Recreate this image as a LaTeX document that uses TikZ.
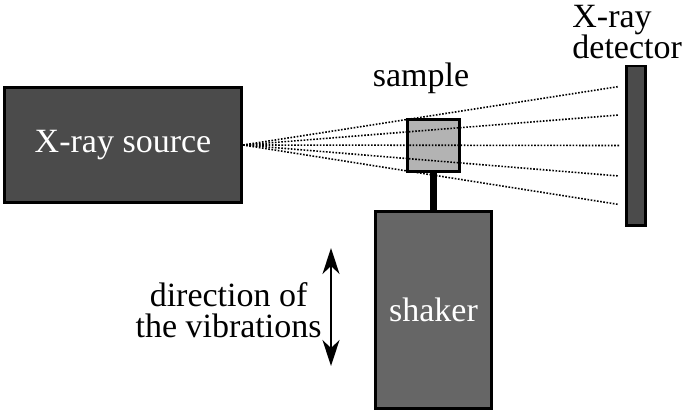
\documentclass[tikz,border=0pt]{standalone}
\usepackage{fontspec}
\setmainfont{Liberation Serif}
\usetikzlibrary{shapes,arrows.meta,positioning}
\definecolor{srcgray}{HTML}{4B4B4B}
\definecolor{shkgray}{HTML}{666666}
\definecolor{smpgray}{HTML}{B3B3B3}

\begin{document}
\begin{tikzpicture}[x=0.5pt, y=-0.5pt, font=\fontsize{17}{15.5}\selectfont,
    box/.style={rectangle, draw, line width=1.3pt, inner sep=0pt},
    lbl/.style={inner sep=0pt},
    ray/.style={line width=0.8pt, dash pattern=on 0.8pt off 0.8pt}]
    \useasboundingbox (0,0) rectangle (685,413);
	\node[box, fill=srcgray, text=white, minimum width=118.7pt, minimum height=57.7pt](source) at (123,145){X-ray source};
    \node[box, fill=srcgray, minimum width=9.7pt, minimum height=79.7pt](detector) at (636,145.5){};
    \node[box, fill=shkgray, text=white, minimum width=58.2pt, minimum height=98.7pt](shaker) at (433.5,310){shaker};
    \node[box, fill=smpgray, minimum width=26.2pt, minimum height=26.2pt](sample) at (433.5,145.5){};
    \path[draw, line width=3.5pt](sample.south)--(shaker.north);
    \foreach \dy in {29.5,15.25,0,-15.25,-29.5}
        \path[draw, ray](source.east)--([xshift=-3pt, yshift=\dy pt]detector.west);
    \node[lbl](samplelabel) at (421,78){sample};
    \node[lbl, align=left, anchor=north west](detectorlabel) at (572,5){X-ray\\detector};
    \coordinate (vtop) at (331,248);
    \coordinate (vbottom) at (331,366);
    \path[draw, line width=0.8pt, {Stealth[length=13pt, width=8.5pt, inset=4pt]}-{Stealth[length=13pt, width=8.5pt, inset=4pt]}](vtop)--(vbottom);
    \node[lbl, align=center, anchor=east](vlabel) at (322,310){direction of\\the vibrations};
	\end{tikzpicture}
\end{document}
